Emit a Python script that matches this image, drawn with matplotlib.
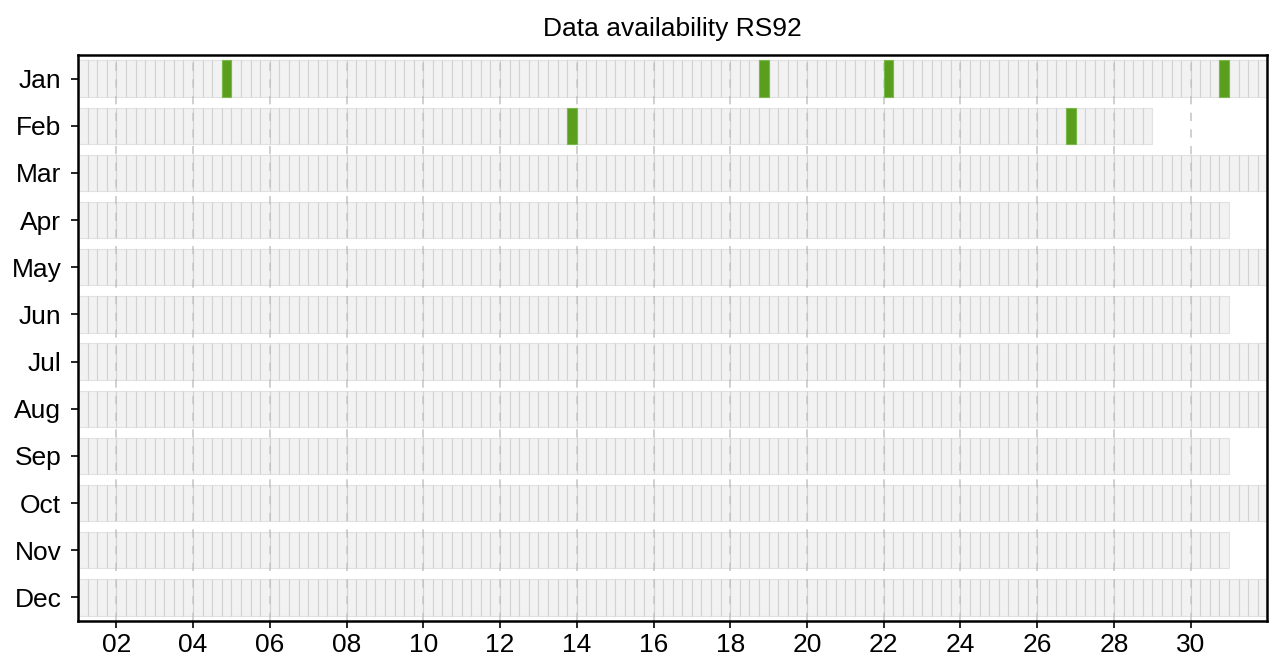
import matplotlib

matplotlib.use("Agg")
import matplotlib.pyplot as plt

plt.rcParams["font.family"] = ["Liberation Sans", "DejaVu Sans"]

MONTHS = ["Jan", "Feb", "Mar", "Apr", "May", "Jun",
          "Jul", "Aug", "Sep", "Oct", "Nov", "Dec"]
DAYS_IN_MONTH = [31, 28, 31, 30, 31, 30, 31, 31, 30, 31, 30, 31]
LAUNCH_HOURS = [0, 6, 12, 18]

# soundings that were found (month index, day, hour)
AVAIL_MONTH = [0, 0, 0, 0, 1, 1]
AVAIL_DAY = [4, 18, 22, 30, 13, 26]
AVAIL_HOUR = [18, 18, 0, 18, 18, 18]

XTICKS = list(range(2, 32, 2))

CELL_COLOR = "#dcdcdc"
CELL_EDGE = "#b8b8b8"
HIT_COLOR = "#5a9e1e"
ROW_HEIGHT = 0.77


def main() -> None:
    fig = plt.figure(figsize=(12.7, 6.59), dpi=100)
    ax = fig.add_axes([0.0614, 0.0577, 0.9366, 0.8588])

    slot = 1 / len(LAUNCH_HOURS)
    for m, ndays in enumerate(DAYS_IN_MONTH):
        xs = [d + h / 24 for d in range(1, ndays + 1) for h in LAUNCH_HOURS]
        ax.bar(xs, ROW_HEIGHT, width=slot, bottom=m - ROW_HEIGHT / 2, align="edge",
               color=CELL_COLOR, edgecolor=CELL_EDGE, linewidth=0.8, alpha=0.35, zorder=2)

    hx = [d + h / 24 for d, h in zip(AVAIL_DAY, AVAIL_HOUR)]
    hy = [m - ROW_HEIGHT / 2 for m in AVAIL_MONTH]
    ax.bar(hx, ROW_HEIGHT, width=slot, bottom=hy, align="edge",
           color=HIT_COLOR, edgecolor="#7ab84a", linewidth=0.8, zorder=3)

    ax.set_xlim(1, 32)
    ax.set_ylim(11.5, -0.5)
    ax.set_yticks(range(len(MONTHS)))
    ax.set_yticklabels(MONTHS)
    ax.set_xticks(XTICKS)
    ax.set_xticklabels([f"{d:02d}" for d in XTICKS])
    ax.tick_params(labelsize=19, length=5, width=1.2)
    ax.tick_params(axis="y", pad=7)

    ax.grid(axis="x", color="#c8c8c8", linestyle=(0, (5, 5)), linewidth=1.2, zorder=1)
    ax.set_axisbelow(True)
    for sp in ax.spines.values():
        sp.set_linewidth(1.8)
        sp.set_zorder(5)

    ax.set_title("Data availability RS92", fontsize=19, pad=14)

    fig.savefig("out.png", dpi=100)


if __name__ == "__main__":
    main()
